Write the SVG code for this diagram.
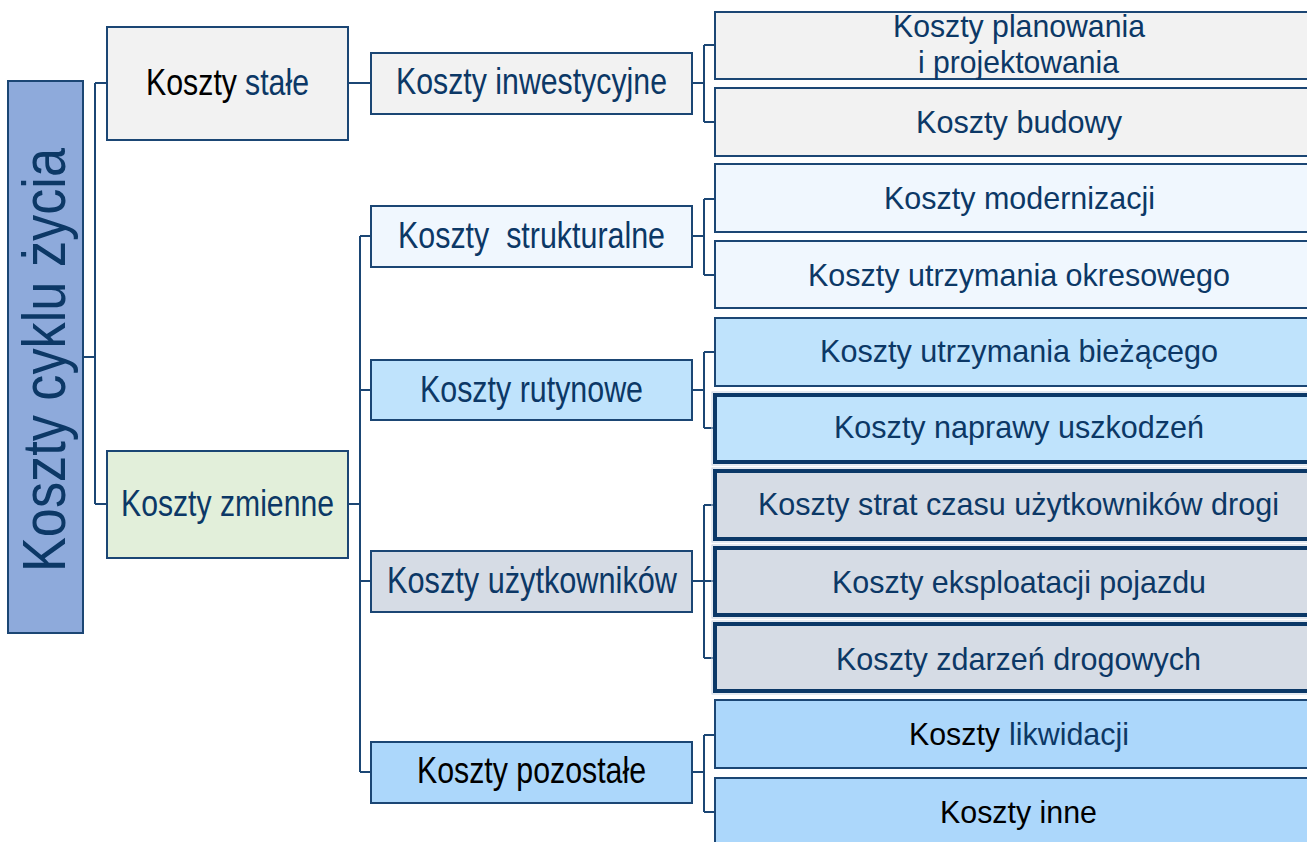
<svg xmlns="http://www.w3.org/2000/svg" width="1307" height="842" viewBox="0 0 1307 842">
<style>
text{font-family:"Liberation Sans Narrow","Liberation Sans",Arial,sans-serif;fill:#0c3866;}
.k{fill:#000;}
.l1{font-size:37px;}
.l2{font-size:36px;}
.l3{font-size:32px;}
.box{stroke:#1b4674;stroke-width:2;}
.thick{stroke:#0b3867;stroke-width:4;}
.halo{fill:none;stroke:#c9d4e2;stroke-width:1;}
.conn{fill:none;stroke:#1b4674;stroke-width:2;}
.gray{fill:#f2f2f2;}
.pale{fill:#f0f7fe;}
.blue{fill:#bfe3fc;}
.slate{fill:#d6dce5;}
.sky{fill:#acd7fb;}
</style>
<rect width="1307" height="842" fill="#ffffff"/>
<g id="connectors">
<path class="conn" d="M83,357H95M95,83V504M95,83H107M95,504H107"/>
<path class="conn" d="M348,83H371"/>
<path class="conn" d="M348,504H360M360,236V772M360,236H371M360,390H371M360,581H371M360,772H371"/>
<path class="conn" d="M692,83H704M704,45V122M704,45H715M704,122H715"/>
<path class="conn" d="M692,236H704M704,199V275M704,199H715M704,275H715"/>
<path class="conn" d="M692,390H704M704,352V428M704,352H715M704,428H715"/>
<path class="conn" d="M692,581H715M704,505V658M704,505H715M704,658H715"/>
<path class="conn" d="M692,772H704M704,735V812M704,735H715M704,812H715"/>
</g>
<g id="root">
<rect class="box" x="8" y="81" width="75" height="552" fill="#8eaadb"/>
<text transform="translate(65,360) rotate(-90)" text-anchor="middle" font-size="62" textLength="424" lengthAdjust="spacingAndGlyphs">Koszty cyklu życia</text>
</g>
<g id="koszty-stale">
<rect class="box gray" x="107" y="27" width="241" height="113"/>
<g transform="translate(0,95) scale(1,1.22)">
<text class="k" x="146" y="0" font-size="30" textLength="91" lengthAdjust="spacingAndGlyphs">Koszty</text>
<text x="245" y="0" font-size="30" textLength="64" lengthAdjust="spacingAndGlyphs">stałe</text>
</g>
</g>
<g id="koszty-zmienne">
<rect class="box" x="107" y="451" width="241" height="107" fill="#e2efda"/>
<text class="l1" x="121" y="516" textLength="213" lengthAdjust="spacingAndGlyphs">Koszty zmienne</text>
</g>
<g id="koszty-inwestycyjne">
<rect class="box gray" x="371" y="53" width="321" height="61"/>
<text class="l2" x="396" y="94" textLength="271" lengthAdjust="spacingAndGlyphs">Koszty inwestycyjne</text>
</g>
<g id="koszty-strukturalne">
<rect class="box pale" x="371" y="206" width="321" height="61"/>
<text class="l2" x="398" y="248" textLength="267" lengthAdjust="spacingAndGlyphs" xml:space="preserve">Koszty  strukturalne</text>
</g>
<g id="koszty-rutynowe">
<rect class="box blue" x="371" y="360" width="321" height="60"/>
<text class="l2" x="420" y="402" textLength="223" lengthAdjust="spacingAndGlyphs">Koszty rutynowe</text>
</g>
<g id="koszty-uzytkownikow">
<rect class="box slate" x="371" y="551" width="321" height="61"/>
<text class="l2" x="387" y="593" textLength="290" lengthAdjust="spacingAndGlyphs">Koszty użytkowników</text>
</g>
<g id="koszty-pozostale">
<rect class="box sky" x="371" y="742" width="321" height="61"/>
<text class="l2 k" x="417" y="783" textLength="229" lengthAdjust="spacingAndGlyphs">Koszty pozostałe</text>
</g>
<g id="koszty-planowania">
<rect class="box gray" x="715" y="12" width="620" height="67"/>
<text class="l3" x="893" y="37" textLength="252" lengthAdjust="spacingAndGlyphs">Koszty planowania</text>
<text class="l3" x="918" y="73" textLength="201" lengthAdjust="spacingAndGlyphs">i projektowania</text>
</g>
<g id="koszty-budowy">
<rect class="box gray" x="715" y="88" width="620" height="68"/>
<text class="l3" x="916" y="133" textLength="206" lengthAdjust="spacingAndGlyphs">Koszty budowy</text>
</g>
<g id="koszty-modernizacji">
<rect class="box pale" x="715" y="164" width="620" height="68"/>
<text class="l3" x="884" y="209" textLength="271" lengthAdjust="spacingAndGlyphs">Koszty modernizacji</text>
</g>
<g id="koszty-utrzymania-okresowego">
<rect class="box pale" x="715" y="241" width="620" height="67"/>
<text class="l3" x="808" y="286" textLength="422" lengthAdjust="spacingAndGlyphs">Koszty utrzymania okresowego</text>
</g>
<g id="koszty-utrzymania-biezacego">
<rect class="box blue" x="715" y="318" width="620" height="68"/>
<text class="l3" x="820" y="362" textLength="398" lengthAdjust="spacingAndGlyphs">Koszty utrzymania bieżącego</text>
</g>
<g id="koszty-naprawy">
<rect class="halo" x="712" y="392" width="620" height="73"/>
<rect class="thick blue" x="715" y="395" width="620" height="67"/>
<text class="l3" x="834" y="438" textLength="370" lengthAdjust="spacingAndGlyphs">Koszty naprawy uszkodzeń</text>
</g>
<g id="koszty-strat-czasu">
<rect class="halo" x="712" y="468" width="620" height="74"/>
<rect class="thick slate" x="715" y="471" width="620" height="68"/>
<text class="l3" x="758" y="515" textLength="521" lengthAdjust="spacingAndGlyphs">Koszty strat czasu użytkowników drogi</text>
</g>
<g id="koszty-eksploatacji">
<rect class="halo" x="712" y="545" width="620" height="73"/>
<rect class="thick slate" x="715" y="548" width="620" height="67"/>
<text class="l3" x="832" y="593" textLength="374" lengthAdjust="spacingAndGlyphs">Koszty eksploatacji pojazdu</text>
</g>
<g id="koszty-zdarzen">
<rect class="halo" x="712" y="621" width="620" height="73"/>
<rect class="thick slate" x="715" y="624" width="620" height="67"/>
<text class="l3" x="836" y="670" textLength="365" lengthAdjust="spacingAndGlyphs">Koszty zdarzeń drogowych</text>
</g>
<g id="koszty-likwidacji">
<rect class="box sky" x="715" y="700" width="620" height="68"/>
<text class="l3 k" x="909" y="745" textLength="91" lengthAdjust="spacingAndGlyphs">Koszty</text>
<text class="l3" x="1009" y="745" textLength="120" lengthAdjust="spacingAndGlyphs">likwidacji</text>
</g>
<g id="koszty-inne">
<rect class="box sky" x="715" y="778" width="620" height="72"/>
<text class="l3 k" x="940" y="823" textLength="157" lengthAdjust="spacingAndGlyphs">Koszty inne</text>
</g>
</svg>
